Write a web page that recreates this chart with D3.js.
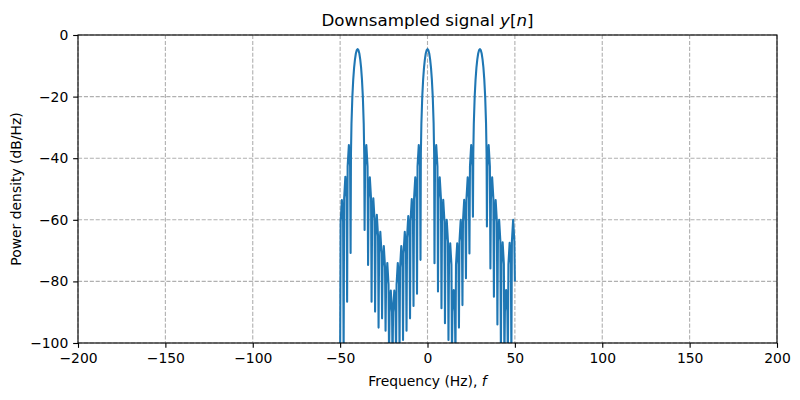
<!DOCTYPE html>
<html><head><meta charset="utf-8">
<script src="https://cdn.jsdelivr.net/npm/d3@7"></script>
<style>
body{margin:0;background:#fff}
text{font-family:"DejaVu Sans",sans-serif;fill:#000}
</style>
</head><body><svg id="chart" width="800" height="400"></svg>
<script>
// ---- data ----
const titleText = "Downsampled signal ";
const xLabelText = "Frequency (Hz), ";
const yLabelText = "Power density (dB/Hz)";
const xTicks = [-200, -150, -100, -50, 0, 50, 100, 150, 200];
const yTicks = [0, -20, -40, -60, -80, -100];
const xDomain = [-200, 200];
const yDomain = [-100, 0];
// [frequency (Hz), power (dB/Hz)]
const spectrum = [
  [-50,-104],
  [-49.7,-60.6],[-49,-53.6],[-48.3,-60.6],
  [-48,-104],
  [-47.7,-53],[-47,-46],[-46.3,-53],
  [-46,-86.6],
  [-45.7,-42.7],[-45,-35.7],[-44.3,-42.7],
  [-44,-70.8],
  [-43.8,-38.6],[-43.5,-28.7],[-43,-20],[-42.5,-14.5],[-42,-10.6],[-41.5,-7.9],[-41,-6],[-40.5,-4.95],[-40,-4.6],
  [-39.5,-4.95],[-39,-6],[-38.5,-7.9],[-38,-10.6],[-37.5,-14.5],[-37,-20],[-36.5,-28.7],[-36.2,-38.6],
  [-36,-63.3],
  [-35.7,-42.7],[-35,-35.7],[-34.3,-42.7],
  [-34,-74.7],
  [-33.7,-53.2],[-33,-46.2],[-32.3,-53.2],
  [-32,-86.6],
  [-31.7,-60],[-31,-53],[-30.3,-60],
  [-30,-89.8],
  [-29.7,-65.4],[-29,-58.4],[-28.3,-65.4],
  [-28,-95],
  [-27.7,-70.9],[-27,-63.9],[-26.3,-70.9],
  [-26,-92],
  [-25.7,-75.5],[-25,-68.5],[-24.3,-75.5],
  [-24,-96],
  [-23.7,-81],[-23,-74],[-22.3,-81],
  [-22,-104],
  [-21.7,-90],[-21,-83],[-20.3,-90],
  [-20,-106],
  [-19.7,-90],[-19,-83],[-18.3,-90],
  [-18,-104],
  [-17.7,-81],[-17,-74],[-16.3,-81],
  [-16,-102],
  [-15.7,-75.5],[-15,-68.5],[-14.3,-75.5],
  [-14,-99],
  [-13.7,-70.9],[-13,-63.9],[-12.3,-70.9],
  [-12,-96],
  [-11.7,-65.8],[-11,-58.8],[-10.3,-65.8],
  [-10,-92],
  [-9.7,-60.3],[-9,-53.3],[-8.3,-60.3],
  [-8,-88],
  [-7.7,-53.2],[-7,-46.2],[-6.3,-53.2],
  [-6,-84],
  [-5.7,-42.7],[-5,-35.7],[-4.3,-42.7],
  [-4,-73],
  [-3.8,-38.6],[-3.5,-28.7],[-3,-20],[-2.5,-14.5],[-2,-10.6],[-1.5,-7.9],[-1,-6],[-0.5,-4.95],[0,-4.6],
  [0.5,-4.95],[1,-6],[1.5,-7.9],[2,-10.6],[2.5,-14.5],[3,-20],[3.5,-28.7],[3.8,-38.6],
  [4,-74.1],
  [4.3,-42.7],[5,-35.7],[5.7,-42.7],
  [6,-83.3],
  [6.3,-53.2],[7,-46.2],[7.7,-53.2],
  [8,-88.7],
  [8.3,-60.5],[9,-53.5],[9.7,-60.5],
  [10,-93.6],
  [10.3,-67],[11,-60],[11.7,-67],
  [12,-99],
  [12.3,-74.6],[13,-67.6],[13.7,-74.6],
  [14,-105],
  [14.3,-89.8],[15,-82.8],[15.7,-89.8],
  [16,-105],
  [16.3,-74.6],[17,-67.6],[17.7,-74.6],
  [18,-95],
  [18.3,-67],[19,-60],[19.7,-67],
  [20,-87.7],
  [20.3,-60.5],[21,-53.5],[21.7,-60.5],
  [22,-79],
  [22.3,-53.2],[23,-46.2],[23.7,-53.2],
  [24,-70.9],
  [24.3,-42.7],[25,-35.7],[25.7,-42.7],
  [26,-59],
  [26.2,-38.6],[26.5,-28.7],[27,-20],[27.5,-14.5],[28,-10.6],[28.5,-7.9],[29,-6],[29.5,-4.95],[30,-4.6],
  [30.5,-4.95],[31,-6],[31.5,-7.9],[32,-10.6],[32.5,-14.5],[33,-20],[33.5,-28.7],[33.8,-38.6],
  [34,-62.2],
  [34.3,-42.7],[35,-35.7],[35.7,-42.7],
  [36,-75.8],
  [36.3,-53.2],[37,-46.2],[37.7,-53.2],
  [38,-85],
  [38.3,-60.6],[39,-53.6],[39.7,-60.6],
  [40,-94],
  [40.3,-67],[41,-60],[41.7,-67],
  [42,-104],
  [42.3,-74.3],[43,-67.3],[43.7,-74.3],
  [44,-106],
  [44.3,-89.8],[45,-82.8],[45.7,-89.8],
  [46,-106],
  [46.3,-74.5],[47,-67.5],[47.7,-74.5],
  [48,-104],
  [48.3,-67],[49,-60],[49.7,-67],
  [50,-80]
];

// ---- layout ----
const W = 800, H = 400;
const pt = 100 / 72;
const plot = {left: 78, right: 777, top: 35, bottom: 343};
const svg = d3.select("#chart");
svg.append("rect").attr("width", W).attr("height", H).attr("fill", "#fff");

const x = d3.scaleLinear().domain(xDomain).range([plot.left, plot.right]);
const y = d3.scaleLinear().domain(yDomain).range([plot.bottom, plot.top]);
const fmt = v => (v < 0 ? "\u2212" + Math.abs(v) : String(v));

// grid
const grid = svg.append("g").attr("stroke", "#b0b0b0").attr("stroke-width", 0.8 * pt)
  .attr("stroke-dasharray", `${3.7 * 0.8 * pt},${1.6 * 0.8 * pt}`).attr("fill", "none");
grid.selectAll(".gx").data(xTicks).join("line")
  .attr("x1", d => x(d)).attr("x2", d => x(d))
  .attr("y1", plot.top).attr("y2", plot.bottom);
grid.selectAll(".gy").data(yTicks).join("line")
  .attr("x1", plot.left).attr("x2", plot.right)
  .attr("y1", d => y(d)).attr("y2", d => y(d));

// clip
svg.append("clipPath").attr("id", "clip").append("rect")
  .attr("x", plot.left).attr("y", plot.top)
  .attr("width", plot.right - plot.left).attr("height", plot.bottom - plot.top);

const line = d3.line().x(d => x(d[0])).y(d => y(d[1]));
svg.append("path").datum(spectrum)
  .attr("clip-path", "url(#clip)")
  .attr("fill", "none").attr("stroke", "#1f77b4").attr("stroke-width", 1.5 * pt)
  .attr("stroke-linejoin", "round").attr("stroke-linecap", "butt")
  .attr("d", line);

// axes
const xAxis = d3.axisBottom(x).tickValues(xTicks).tickFormat(fmt)
  .tickSize(3.5 * pt).tickSizeOuter(0).tickPadding(3.5 * pt);
const yAxis = d3.axisLeft(y).tickValues(yTicks).tickFormat(fmt)
  .tickSize(3.5 * pt).tickSizeOuter(0).tickPadding(3.5 * pt);
const gx = svg.append("g").attr("transform", `translate(0,${plot.bottom})`).call(xAxis);
const gy = svg.append("g").attr("transform", `translate(${plot.left},0)`).call(yAxis);
[gx, gy].forEach(g => {
  g.select(".domain").remove();
  g.selectAll(".tick line").attr("stroke", "#000").attr("stroke-width", 0.8 * pt);
  g.selectAll(".tick text").attr("font-family", "DejaVu Sans").attr("font-size", "13.9px").attr("fill", "#000");
});

// spines
svg.append("rect").attr("x", plot.left).attr("y", plot.top)
  .attr("width", plot.right - plot.left).attr("height", plot.bottom - plot.top)
  .attr("fill", "none").attr("stroke", "#000").attr("stroke-width", 0.8 * pt);

// title
const t = svg.append("text").attr("x", (plot.left + plot.right) / 2).attr("y", 26)
  .attr("text-anchor", "middle").attr("font-size", "16.7px");
t.append("tspan").text(titleText);
t.append("tspan").attr("font-style", "italic").text("y");
t.append("tspan").text("[");
t.append("tspan").attr("font-style", "italic").text("n");
t.append("tspan").text("]");

// x label
const xl = svg.append("text").attr("x", (plot.left + plot.right) / 2).attr("y", 386)
  .attr("text-anchor", "middle").attr("font-size", "13.9px");
xl.append("tspan").text(xLabelText);
xl.append("tspan").attr("font-style", "italic").text("f");

// y label
svg.append("text").attr("transform", `translate(21,${(plot.top + plot.bottom) / 2}) rotate(-90)`)
  .attr("text-anchor", "middle").attr("font-size", "13.9px").text(yLabelText);
</script></body></html>
